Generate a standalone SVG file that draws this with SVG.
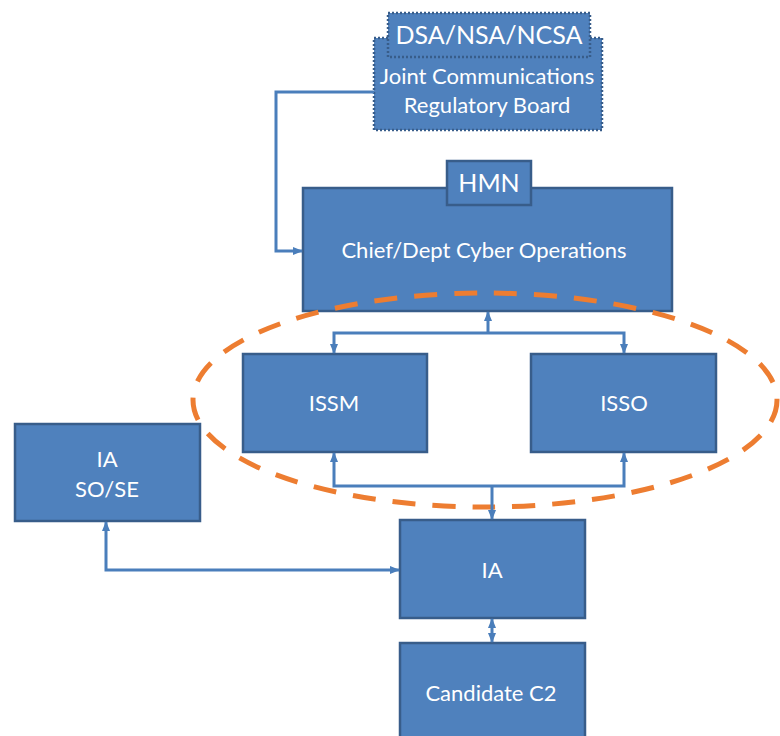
<svg xmlns="http://www.w3.org/2000/svg" width="780" height="736" viewBox="0 0 780 736">
  <defs>
    <marker id="arrow" viewBox="0 0 10 10" refX="9" refY="5" markerWidth="10" markerHeight="10" markerUnits="userSpaceOnUse" orient="auto-start-reverse">
      <path d="M0,1 L10,5 L0,9 z" fill="#4A7EBB"/>
    </marker>
    <style>
      .box { fill: #4F81BD; stroke: #385D8A; stroke-width: 2.5; }
      .dotted { stroke-dasharray: 2 2; }
      .lbl { fill: #FFFFFF; font-family: Lato, "Liberation Sans", sans-serif; font-size: 22px; text-anchor: middle; }
      .big { font-size: 25px; }
      .conn { fill: none; stroke: #4A7EBB; stroke-width: 3; }
      .ring { fill: none; stroke: #ED7D31; stroke-width: 5; stroke-dasharray: 23 17; }
    </style>
  </defs>

  <!-- regulatory board with authority tab on top -->
  <g id="jcrb">
    <rect class="box dotted" x="374" y="38" width="228" height="92"/>
    <text class="lbl" x="487" y="84">Joint Communications</text>
    <text class="lbl" x="487" y="113">Regulatory Board</text>
  </g>
  <g id="dsa">
    <rect class="box dotted" x="388" y="13" width="202" height="44"/>
    <text class="lbl big" x="489" y="44">DSA/NSA/NCSA</text>
  </g>

  <!-- operations chief with HMN tab -->
  <g id="chief">
    <rect class="box" x="303" y="188" width="369" height="123"/>
    <text class="lbl" x="484" y="258">Chief/Dept Cyber Operations</text>
  </g>
  <g id="hmn">
    <rect class="box" x="447" y="161" width="84" height="44"/>
    <text class="lbl big" x="489" y="192">HMN</text>
  </g>

  <g id="issm">
    <rect class="box" x="243" y="354" width="184" height="98"/>
    <text class="lbl" x="334" y="411">ISSM</text>
  </g>
  <g id="isso">
    <rect class="box" x="531" y="354" width="185" height="98"/>
    <text class="lbl" x="624" y="411">ISSO</text>
  </g>

  <g id="ia-sose">
    <rect class="box" x="15" y="424" width="185" height="97"/>
    <text class="lbl" x="107" y="467">IA</text>
    <text class="lbl" x="107" y="497">SO/SE</text>
  </g>

  <g id="ia">
    <rect class="box" x="400" y="520" width="185" height="98"/>
    <text class="lbl" x="492" y="578">IA</text>
  </g>

  <g id="candidate-c2">
    <rect class="box" x="400" y="643" width="185" height="100"/>
    <text class="lbl" x="491" y="701">Candidate C2</text>
  </g>

  <!-- dashed grouping around the security officers -->
  <ellipse id="security-ring" class="ring" cx="485" cy="400" rx="292" ry="107"/>

  <g id="connectors">
    <path class="conn" d="M374,92 H276 V251 H302" marker-end="url(#arrow)"/>
    <path class="conn" d="M488,333 V312" marker-end="url(#arrow)"/>
    <path class="conn" d="M334,353 V333 H624 V353" marker-start="url(#arrow)" marker-end="url(#arrow)"/>
    <path class="conn" d="M334,453 V486 H624 V453" marker-start="url(#arrow)" marker-end="url(#arrow)"/>
    <path class="conn" d="M492,486 V519" marker-end="url(#arrow)"/>
    <path class="conn" d="M106,522 V570 H399" marker-start="url(#arrow)" marker-end="url(#arrow)"/>
    <path class="conn" d="M492,619 V642" marker-start="url(#arrow)" marker-end="url(#arrow)"/>
  </g>
</svg>
